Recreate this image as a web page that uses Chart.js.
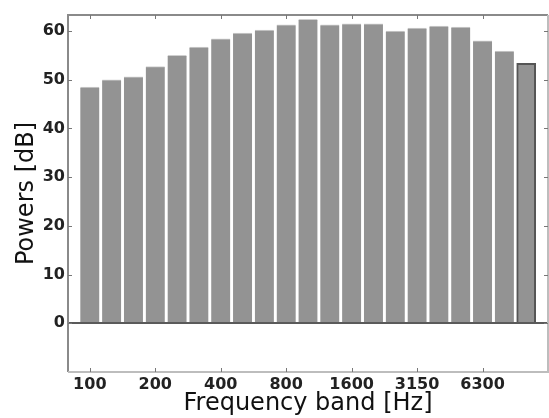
<!DOCTYPE html>
<html>
<head>
<meta charset="utf-8">
<script src="https://cdn.jsdelivr.net/npm/chart.js@4/dist/chart.umd.min.js"></script>
<style>
  html, body { margin: 0; padding: 0; background: #fff; }
  #wrap { width: 549px; height: 418px; }
</style>
</head>
<body>
<div id="wrap"><canvas id="powerChart" width="549" height="418"></canvas></div>
<script>
// 1/3 octave bands and band powers
const bands = ['100', '125', '160', '200', '250', '315', '400', '500', '630', '800', '1000',
    '1250', '1600', '2000', '2500', '3150', '4000', '5000', '6300', '8000', '10000'];
const powers = [48.5, 50.0, 50.6, 52.7, 55.0, 56.7, 58.4, 59.6, 60.2, 61.3, 62.4,
    61.3, 61.5, 61.5, 60.0, 60.6, 61.0, 60.8, 58.0, 55.9, 53.4];
const shownBands = ['100', '200', '400', '800', '1600', '3150', '6300'];
const yTicks = [0, 10, 20, 30, 40, 50, 60];

// pad one empty slot on each side, like the original axis
const labels = ['', ...bands, ''];
const values = [null, ...powers, null];

const frame = {
    id: 'frame',
    afterDatasetsDraw(chart) {
        const { ctx, chartArea: a, scales } = chart;
        const y0 = Math.round(scales.y.getPixelForValue(0));
        ctx.save();
        ctx.strokeStyle = '#5a5a5a';
        ctx.lineWidth = 2;
        ctx.beginPath();
        ctx.moveTo(a.left, y0);
        ctx.lineTo(a.right, y0);
        ctx.stroke();
        ctx.restore();
    },
    afterDraw(chart) {
        const { ctx, chartArea: a, scales } = chart;
        ctx.save();
        ctx.lineWidth = 2;
        // axes box
        ctx.strokeStyle = '#8a8a8a';
        ctx.beginPath();
        ctx.moveTo(a.left, a.bottom);
        ctx.lineTo(a.left, a.top);
        ctx.lineTo(a.right, a.top);
        ctx.stroke();
        ctx.strokeStyle = '#bdbdbd';
        ctx.beginPath();
        ctx.moveTo(a.left, a.bottom);
        ctx.lineTo(a.right, a.bottom);
        ctx.lineTo(a.right, a.top);
        ctx.stroke();
        // inward tick marks
        ctx.lineWidth = 1;
        ctx.strokeStyle = '#777';
        ctx.beginPath();
        shownBands.forEach(b => {
            const x = Math.round(scales.x.getPixelForValue(labels.indexOf(b))) + 0.5;
            ctx.moveTo(x, a.top); ctx.lineTo(x, a.top + 4);
            ctx.moveTo(x, a.bottom); ctx.lineTo(x, a.bottom - 4);
        });
        yTicks.forEach(v => {
            const y = Math.round(scales.y.getPixelForValue(v)) + 0.5;
            ctx.moveTo(a.left, y); ctx.lineTo(a.left + 4, y);
            ctx.moveTo(a.right, y); ctx.lineTo(a.right - 4, y);
        });
        ctx.stroke();
        ctx.restore();
    }
};

new Chart(document.getElementById('powerChart'), {
    type: 'bar',
    data: {
        labels: labels,
        datasets: [{
            data: values,
            backgroundColor: '#939393',
            borderColor: values.map((v, i) => i === powers.length ? '#555' : '#cfcfcf'),
            borderWidth: values.map((v, i) => i === powers.length ? 2 : { top: 1 }),
            borderSkipped: 'bottom',
            barThickness: 19
        }]
    },
    options: {
        responsive: false,
        animation: false,
        layout: { padding: { top: 15, right: 1, left: 0, bottom: 0 } },
        plugins: {
            legend: { display: false },
            tooltip: { enabled: false }
        },
        scales: {
            x: {
                type: 'category',
                offset: false,
                grid: { display: false, drawTicks: false },
                border: { display: false },
                afterFit: (scale) => { scale.height = 46; },
                ticks: {
                    autoSkip: false,
                    maxRotation: 0,
                    padding: 3,
                    color: '#222',
                    font: { family: 'DejaVu Sans', size: 16, weight: 'bold' },
                    callback: function (value) {
                        const lbl = this.getLabelForValue(value);
                        return shownBands.includes(lbl) ? lbl : null;
                    }
                },
                title: {
                    display: true,
                    text: 'Frequency band [Hz]',
                    color: '#111',
                    padding: { top: 0, bottom: 0 },
                    font: { family: 'DejaVu Sans', size: 24 }
                }
            },
            y: {
                min: -10,
                max: 63.3,
                grid: { display: false, drawTicks: false },
                border: { display: false },
                afterFit: (scale) => { scale.width = 68; },
                afterBuildTicks: (scale) => { scale.ticks = yTicks.map(v => ({ value: v })); },
                ticks: {
                    padding: 3,
                    color: '#222',
                    font: { family: 'DejaVu Sans', size: 16, weight: 'bold' }
                },
                title: {
                    display: true,
                    text: 'Powers [dB]',
                    color: '#111',
                    padding: { top: 12, bottom: 0 },
                    font: { family: 'DejaVu Sans', size: 24 }
                }
            }
        }
    },
    plugins: [frame]
});
</script>
</body>
</html>
